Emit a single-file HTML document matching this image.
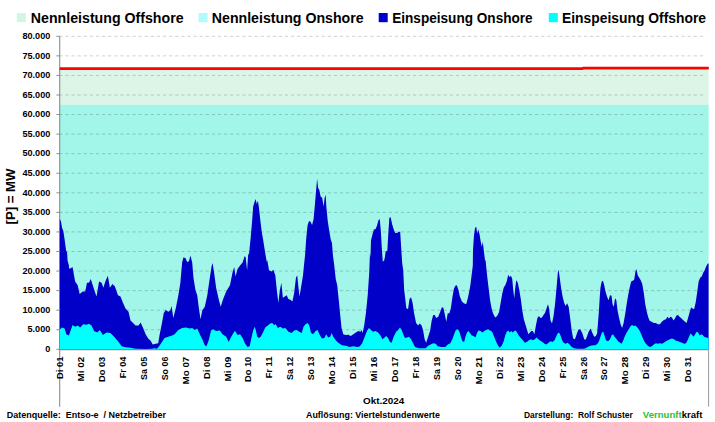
<!DOCTYPE html>
<html><head><meta charset="utf-8"><title>Windenergie Okt.2024</title>
<style>
html,body{margin:0;padding:0;background:#fff;}
body{width:715px;height:422px;overflow:hidden;font-family:"Liberation Sans",sans-serif;}
svg{display:block;}
text{font-family:"Liberation Sans",sans-serif;font-weight:bold;fill:#000;}
</style></head><body>
<svg width="715" height="422" viewBox="0 0 715 422">
<rect x="0" y="0" width="715" height="422" fill="#ffffff"/>

<rect x="59.7" y="69.5" width="648.9" height="35.2" fill="#dcf5e6"/>
<rect x="59.7" y="104.7" width="648.9" height="244.6" fill="#a1f5e9"/>
<line x1="59.3" y1="36.30" x2="706.2" y2="36.30" stroke="#000000" stroke-width="0.9" stroke-dasharray="3.2,2.9" stroke-opacity="0.21"/>
<line x1="59.3" y1="55.86" x2="706.2" y2="55.86" stroke="#000000" stroke-width="0.9" stroke-dasharray="3.2,2.9" stroke-opacity="0.21"/>
<line x1="59.3" y1="75.42" x2="706.2" y2="75.42" stroke="#000000" stroke-width="0.9" stroke-dasharray="3.2,2.9" stroke-opacity="0.21"/>
<line x1="59.3" y1="94.99" x2="706.2" y2="94.99" stroke="#000000" stroke-width="0.9" stroke-dasharray="3.2,2.9" stroke-opacity="0.21"/>
<line x1="59.3" y1="114.55" x2="706.2" y2="114.55" stroke="#000000" stroke-width="0.9" stroke-dasharray="3.2,2.9" stroke-opacity="0.21"/>
<line x1="59.3" y1="134.11" x2="706.2" y2="134.11" stroke="#000000" stroke-width="0.9" stroke-dasharray="3.2,2.9" stroke-opacity="0.21"/>
<line x1="59.3" y1="153.68" x2="706.2" y2="153.68" stroke="#000000" stroke-width="0.9" stroke-dasharray="3.2,2.9" stroke-opacity="0.21"/>
<line x1="59.3" y1="173.24" x2="706.2" y2="173.24" stroke="#000000" stroke-width="0.9" stroke-dasharray="3.2,2.9" stroke-opacity="0.21"/>
<line x1="59.3" y1="192.80" x2="706.2" y2="192.80" stroke="#000000" stroke-width="0.9" stroke-dasharray="3.2,2.9" stroke-opacity="0.21"/>
<line x1="59.3" y1="212.36" x2="706.2" y2="212.36" stroke="#000000" stroke-width="0.9" stroke-dasharray="3.2,2.9" stroke-opacity="0.21"/>
<line x1="59.3" y1="231.93" x2="706.2" y2="231.93" stroke="#000000" stroke-width="0.9" stroke-dasharray="3.2,2.9" stroke-opacity="0.21"/>
<line x1="59.3" y1="251.49" x2="706.2" y2="251.49" stroke="#000000" stroke-width="0.9" stroke-dasharray="3.2,2.9" stroke-opacity="0.21"/>
<line x1="59.3" y1="271.05" x2="706.2" y2="271.05" stroke="#000000" stroke-width="0.9" stroke-dasharray="3.2,2.9" stroke-opacity="0.21"/>
<line x1="59.3" y1="290.61" x2="706.2" y2="290.61" stroke="#000000" stroke-width="0.9" stroke-dasharray="3.2,2.9" stroke-opacity="0.21"/>
<line x1="59.3" y1="310.18" x2="706.2" y2="310.18" stroke="#000000" stroke-width="0.9" stroke-dasharray="3.2,2.9" stroke-opacity="0.21"/>
<line x1="59.3" y1="329.74" x2="706.2" y2="329.74" stroke="#000000" stroke-width="0.9" stroke-dasharray="3.2,2.9" stroke-opacity="0.21"/>
<line x1="59.7" y1="36.3" x2="59.7" y2="406.7" stroke="#8c8c8c" stroke-width="1.1"/>
<path d="M59.78,349.30 L59.78,218.87 L61.04,221.64 L62.05,227.94 L63.31,230.96 L64.57,239.27 L66.08,250.59 L67.08,252.52 L67.59,260.66 L68.85,265.10 L69.10,268.72 L70.61,267.71 L70.61,268.88 L72.12,266.96 L72.62,267.62 L75.14,281.47 L77.66,285.24 L79.67,294.06 L82.69,291.54 L85.21,291.54 L86.97,282.73 L88.99,282.73 L90.75,278.95 L92.76,285.24 L94.78,291.54 L96.54,296.57 L99.06,281.47 L101.57,282.73 L103.34,287.76 L105.35,281.47 L107.87,275.68 L109.88,287.76 L112.40,283.99 L114.92,286.50 L117.94,295.31 L120.45,296.57 L122.97,302.87 L125.49,308.41 L128.51,311.68 L130.52,320.49 L133.04,323.01 L135.56,325.52 L138.58,325.52 L140.59,322.50 L143.11,328.04 L145.63,334.34 L148.15,338.62 L150.66,340.63 L152.68,344.41 L155.70,343.65 L158.22,343.15 L159.48,335.59 L161.99,323.01 L163.76,312.94 L165.77,309.92 L168.29,311.68 L170.30,310.42 L171.56,305.89 L173.32,317.97 L175.84,307.90 L178.36,295.31 L180.37,282.73 L182.13,262.59 L183.39,257.55 L185.41,258.06 L187.17,262.08 L188.93,261.33 L190.44,255.54 L192.20,262.59 L193.46,277.69 L195.48,290.28 L197.24,295.31 L199.00,309.16 L200.51,319.23 L202.27,310.42 L204.79,306.64 L207.31,295.31 L209.83,277.69 L211.59,266.36 L212.59,263.09 L214.10,272.66 L216.12,287.76 L218.64,299.09 L220.65,306.64 L223.17,299.09 L226.19,291.54 L229.97,285.24 L232.48,272.66 L234.24,267.12 L235.54,276.43 L237.55,268.88 L240.07,265.61 L242.59,262.59 L244.60,256.29 L245.61,257.05 L247.12,270.14 L248.13,255.03 L249.13,253.11 L250.64,238.01 L252.15,220.38 L253.16,206.54 L254.67,201.50 L255.68,198.99 L256.69,204.02 L257.94,200.75 L258.95,207.80 L260.21,219.13 L261.72,231.71 L263.23,240.52 L265.24,253.11 L266.76,261.92 L267.26,260.07 L269.02,270.14 L271.54,271.40 L273.30,269.64 L275.31,275.17 L276.83,290.28 L278.34,302.87 L279.85,290.28 L281.36,282.73 L282.87,297.83 L284.88,296.57 L286.64,295.31 L288.41,299.09 L290.42,299.85 L292.43,301.61 L294.20,292.80 L295.96,277.69 L297.22,275.17 L298.48,287.76 L299.48,296.57 L300.99,287.76 L303.01,275.17 L304.52,260.07 L305.02,255.63 L306.28,238.01 L307.54,225.42 L309.05,220.89 L310.56,221.64 L312.07,224.92 L313.58,219.13 L314.84,205.28 L316.10,190.17 L317.10,178.85 L318.11,187.66 L319.37,190.17 L320.63,196.47 L322.14,197.73 L323.65,206.54 L324.66,197.73 L325.66,194.71 L326.42,207.80 L327.68,220.38 L329.19,230.45 L330.70,239.27 L331.96,243.04 L332.97,255.63 L334.22,265.10 L335.73,278.95 L337.24,285.24 L338.76,300.35 L340.27,315.45 L341.52,328.04 L343.29,334.34 L345.80,335.09 L348.32,334.84 L350.84,336.10 L353.36,334.34 L355.87,332.57 L358.39,331.06 L360.41,331.82 L361.66,330.06 L362.67,333.08 L364.18,325.52 L365.94,312.94 L367.71,295.31 L369.22,272.66 L369.97,253.11 L370.48,257.55 L370.98,240.52 L372.49,234.23 L374.00,229.20 L375.51,229.20 L377.02,225.42 L378.53,219.88 L379.79,219.13 L380.80,230.45 L381.80,248.08 L382.81,261.92 L383.06,261.33 L384.07,260.66 L384.83,257.55 L385.58,251.85 L387.34,250.59 L388.35,232.97 L389.36,217.87 L390.62,217.36 L392.13,224.16 L393.64,229.20 L395.15,232.97 L397.16,232.97 L398.67,231.71 L400.18,231.71 L401.19,248.08 L402.20,263.18 L403.20,270.14 L404.21,290.28 L405.72,302.87 L406.26,307.90 L408.02,309.16 L409.53,299.09 L411.04,297.33 L412.55,302.87 L414.06,312.94 L416.08,323.01 L418.09,325.52 L419.60,323.51 L421.62,325.52 L423.13,330.56 L424.64,339.37 L426.15,342.64 L428.16,336.85 L430.17,330.56 L431.69,320.49 L433.20,314.95 L434.71,314.95 L436.22,317.97 L438.23,316.71 L440.24,311.68 L441.76,307.40 L443.27,307.40 L444.78,314.20 L446.29,321.75 L447.80,312.94 L449.31,313.44 L450.82,308.41 L452.33,297.83 L453.84,289.02 L455.35,285.75 L456.86,285.24 L458.37,289.78 L459.88,296.57 L461.90,301.61 L463.91,303.37 L466.17,304.13 L467.94,297.83 L469.20,291.54 L470.30,285.75 L472.80,265.61 L472.97,250.59 L473.98,235.49 L474.99,227.94 L476.24,226.68 L477.25,233.48 L478.26,229.20 L479.52,234.23 L480.52,240.52 L481.78,246.82 L482.79,241.78 L483.80,250.59 L485.06,260.66 L485.56,260.07 L487.07,275.17 L488.58,287.76 L490.09,300.35 L491.60,308.41 L493.11,313.44 L495.13,317.47 L497.14,315.96 L499.15,311.68 L500.66,302.87 L502.17,294.06 L503.69,287.76 L505.20,285.24 L506.71,281.47 L508.22,274.67 L509.73,277.19 L510.99,275.68 L512.24,278.95 L513.25,290.28 L514.26,298.34 L515.27,287.76 L516.27,280.21 L517.78,282.73 L519.29,290.28 L520.80,299.09 L522.31,310.42 L523.83,319.23 L525.34,324.27 L526.85,329.30 L528.36,334.34 L529.87,332.57 L531.38,331.06 L532.89,331.06 L534.40,334.34 L535.91,325.52 L537.42,317.97 L538.93,315.96 L540.44,317.97 L541.95,317.47 L543.46,314.95 L544.97,312.94 L546.48,308.41 L547.99,304.13 L549.00,307.90 L550.51,320.49 L552.02,323.51 L553.53,315.96 L555.04,304.13 L556.55,287.76 L557.81,272.66 L558.57,269.64 L559.57,276.43 L561.08,287.76 L562.59,296.57 L564.10,302.87 L565.62,305.89 L567.13,303.37 L568.64,306.64 L570.15,317.97 L571.66,330.56 L573.17,338.62 L574.93,339.37 L576.69,334.34 L578.20,330.06 L580.22,329.30 L582.23,333.08 L584.24,339.37 L585.60,339.87 L586.86,336.85 L588.62,331.82 L590.64,328.55 L592.40,333.08 L594.16,336.85 L595.92,336.10 L597.18,333.08 L598.19,320.49 L598.94,310.42 L599.70,297.83 L600.45,287.76 L601.71,281.47 L602.97,280.71 L604.23,285.24 L605.49,291.54 L607.00,296.57 L608.51,300.35 L610.02,295.31 L611.53,295.82 L612.54,304.13 L613.80,306.64 L615.06,298.34 L616.31,300.35 L617.57,310.42 L619.08,317.97 L620.59,324.27 L622.10,328.04 L623.62,323.01 L625.13,314.20 L626.64,304.13 L628.15,295.31 L629.66,287.76 L631.17,281.47 L632.68,280.71 L634.19,279.71 L635.45,271.40 L636.45,268.88 L637.71,275.17 L639.22,277.69 L640.73,280.21 L642.24,283.99 L643.76,292.80 L645.27,304.13 L646.78,311.68 L648.29,317.47 L649.80,320.99 L651.81,321.75 L653.83,323.01 L655.84,323.01 L657.85,324.27 L659.87,324.27 L661.88,321.75 L663.90,319.99 L665.91,319.23 L667.42,316.71 L668.93,318.48 L670.44,316.71 L671.95,317.47 L673.46,320.49 L674.97,318.48 L676.48,315.45 L677.99,314.95 L679.50,316.71 L681.01,317.97 L683.03,319.99 L685.04,321.75 L686.55,323.01 L688.06,317.97 L689.57,312.43 L691.08,307.40 L692.59,308.41 L694.10,309.16 L695.62,302.87 L697.13,292.80 L698.64,281.47 L700.15,277.69 L701.66,276.43 L703.17,272.66 L704.68,270.14 L706.19,266.36 L707.70,263.85 L708.61,263.34 L708.61,349.30 Z" fill="#0000c8"/>
<path d="M59.78,349.30 L59.78,329.55 L62.05,327.54 L64.57,328.55 L66.33,334.34 L68.85,335.59 L70.61,330.56 L72.62,325.02 L75.14,326.78 L77.66,325.52 L80.17,327.54 L83.20,324.27 L86.47,324.77 L88.99,323.76 L91.50,325.52 L94.02,331.06 L97.29,332.57 L99.81,330.06 L102.83,335.09 L106.61,332.57 L110.38,333.08 L114.16,336.85 L117.94,341.13 L121.71,346.17 L125.49,347.17 L130.52,347.68 L135.56,348.69 L145.63,348.94 L151.92,348.69 L154.44,348.18 L156.96,348.69 L159.48,345.66 L161.99,341.89 L164.51,338.11 L168.29,336.85 L172.06,335.59 L174.58,334.34 L178.36,330.06 L182.13,328.04 L185.91,327.54 L189.69,328.55 L192.20,328.04 L194.72,330.06 L197.24,328.55 L199.76,334.34 L202.27,339.37 L204.79,345.16 L206.55,346.17 L208.57,340.63 L211.08,330.56 L213.10,329.30 L216.12,331.06 L219.90,330.56 L222.41,334.34 L226.19,336.85 L228.71,341.89 L231.22,336.85 L234.24,331.82 L235.03,331.06 L237.55,335.09 L240.07,334.34 L242.59,338.11 L245.10,343.65 L247.62,346.92 L249.64,346.17 L251.40,338.11 L253.16,330.56 L254.67,326.78 L255.93,330.56 L257.19,336.85 L258.95,338.11 L260.71,336.85 L262.73,333.08 L265.24,327.54 L267.76,325.52 L270.28,323.51 L272.29,323.01 L274.06,325.02 L275.82,324.27 L277.83,328.04 L280.35,326.78 L282.87,328.55 L285.38,328.04 L288.41,331.82 L291.68,333.08 L294.20,330.56 L296.71,330.06 L299.23,331.82 L301.75,333.08 L303.51,326.78 L305.52,324.27 L307.54,323.01 L309.30,325.52 L311.06,333.08 L313.08,334.34 L315.59,331.06 L317.61,330.06 L319.37,334.34 L321.89,338.62 L324.41,338.11 L326.17,334.34 L328.18,337.61 L330.20,336.85 L331.71,333.08 L333.22,336.85 L335.73,340.13 L338.25,342.64 L342.03,345.16 L345.80,345.66 L349.58,346.92 L353.36,346.17 L357.13,346.92 L359.65,346.42 L362.17,343.15 L364.69,336.85 L367.20,330.56 L368.97,328.04 L370.98,330.06 L372.99,331.82 L375.51,331.06 L378.03,332.57 L380.55,335.59 L382.31,339.37 L384.07,338.11 L386.08,336.10 L388.10,338.11 L389.86,341.89 L391.62,342.64 L393.64,336.85 L396.15,331.82 L398.17,330.06 L399.93,327.54 L401.69,330.06 L403.71,335.59 L405.00,338.11 L407.01,337.61 L409.03,336.85 L411.04,339.37 L413.06,343.15 L415.07,346.92 L418.85,348.18 L422.62,348.18 L425.64,348.18 L428.16,345.66 L430.68,344.41 L433.20,343.15 L435.71,343.65 L437.73,346.17 L441.50,346.92 L445.28,346.92 L447.80,344.41 L450.31,343.15 L452.33,339.37 L454.09,334.34 L455.85,330.06 L457.87,329.30 L459.38,331.82 L460.89,336.85 L462.40,341.13 L464.16,341.89 L465.42,336.85 L466.93,332.57 L468.44,331.06 L469.95,333.08 L471.71,335.59 L473.48,336.10 L475.49,337.61 L477.00,333.08 L478.51,330.56 L480.52,331.06 L482.54,332.57 L484.30,331.06 L486.06,330.06 L488.08,329.30 L490.09,330.56 L492.10,331.82 L493.62,335.59 L495.13,339.37 L496.64,342.64 L498.15,345.66 L499.66,347.68 L501.67,345.66 L503.69,341.13 L505.20,335.59 L506.71,331.82 L508.22,330.56 L509.73,332.57 L511.24,331.06 L512.75,332.57 L514.26,331.06 L515.77,330.56 L517.28,333.08 L518.79,335.59 L520.80,338.11 L522.82,340.13 L524.83,342.64 L526.85,341.89 L528.86,340.13 L530.87,339.37 L532.89,340.13 L534.90,339.37 L536.41,337.61 L538.43,339.37 L540.44,340.63 L542.45,341.89 L544.47,343.65 L546.48,344.41 L548.50,342.64 L550.51,341.13 L552.52,341.89 L554.54,340.13 L556.05,336.85 L557.56,333.58 L559.07,332.57 L560.58,335.59 L562.09,340.13 L563.60,342.64 L565.62,343.65 L567.63,342.64 L569.64,344.41 L571.66,346.92 L574.17,348.18 L577.45,348.69 L581.22,348.69 L584.24,348.69 L587.87,346.92 L590.38,345.66 L593.41,345.16 L595.42,345.16 L597.43,343.65 L598.94,341.13 L600.45,336.85 L601.97,332.57 L603.22,331.82 L604.48,335.59 L605.99,340.13 L608.01,341.13 L610.02,339.37 L611.53,335.59 L613.04,334.34 L614.55,336.85 L616.06,338.62 L618.08,341.13 L620.09,342.64 L621.60,343.65 L623.11,340.63 L624.62,336.85 L626.13,333.58 L627.64,331.06 L629.15,328.55 L630.66,326.03 L632.17,325.02 L633.69,326.03 L635.20,325.52 L636.71,326.78 L638.22,328.55 L639.73,331.06 L641.24,334.34 L642.75,338.11 L644.26,341.13 L645.77,343.65 L647.78,345.66 L649.80,346.92 L651.81,346.17 L653.83,344.41 L655.84,343.15 L657.85,343.65 L659.87,343.15 L661.88,343.65 L663.90,342.64 L665.91,341.13 L667.92,340.13 L669.94,339.37 L671.95,338.62 L673.97,339.37 L675.98,340.63 L677.99,341.13 L680.01,341.89 L682.02,342.64 L684.03,343.65 L686.05,343.15 L687.56,340.13 L689.07,336.85 L690.58,333.58 L692.09,335.09 L693.60,336.85 L695.11,334.34 L696.62,331.82 L698.13,332.57 L699.64,335.59 L701.15,334.34 L702.66,335.09 L704.17,336.85 L706.19,337.61 L708.61,338.11 L708.61,349.30 Z" fill="#00ffff"/>
<line x1="56.4" y1="36.30" x2="59.7" y2="36.30" stroke="#8c8c8c" stroke-width="1"/>
<line x1="56.4" y1="55.86" x2="59.7" y2="55.86" stroke="#8c8c8c" stroke-width="1"/>
<line x1="56.4" y1="75.42" x2="59.7" y2="75.42" stroke="#8c8c8c" stroke-width="1"/>
<line x1="56.4" y1="94.99" x2="59.7" y2="94.99" stroke="#8c8c8c" stroke-width="1"/>
<line x1="56.4" y1="114.55" x2="59.7" y2="114.55" stroke="#8c8c8c" stroke-width="1"/>
<line x1="56.4" y1="134.11" x2="59.7" y2="134.11" stroke="#8c8c8c" stroke-width="1"/>
<line x1="56.4" y1="153.68" x2="59.7" y2="153.68" stroke="#8c8c8c" stroke-width="1"/>
<line x1="56.4" y1="173.24" x2="59.7" y2="173.24" stroke="#8c8c8c" stroke-width="1"/>
<line x1="56.4" y1="192.80" x2="59.7" y2="192.80" stroke="#8c8c8c" stroke-width="1"/>
<line x1="56.4" y1="212.36" x2="59.7" y2="212.36" stroke="#8c8c8c" stroke-width="1"/>
<line x1="56.4" y1="231.93" x2="59.7" y2="231.93" stroke="#8c8c8c" stroke-width="1"/>
<line x1="56.4" y1="251.49" x2="59.7" y2="251.49" stroke="#8c8c8c" stroke-width="1"/>
<line x1="56.4" y1="271.05" x2="59.7" y2="271.05" stroke="#8c8c8c" stroke-width="1"/>
<line x1="56.4" y1="290.61" x2="59.7" y2="290.61" stroke="#8c8c8c" stroke-width="1"/>
<line x1="56.4" y1="310.18" x2="59.7" y2="310.18" stroke="#8c8c8c" stroke-width="1"/>
<line x1="56.4" y1="329.74" x2="59.7" y2="329.74" stroke="#8c8c8c" stroke-width="1"/>
<line x1="56.4" y1="349.30" x2="59.7" y2="349.30" stroke="#8c8c8c" stroke-width="1"/>
<path d="M59.7,68.7 L582.2,68.7 L583.2,68.15 L708.8,68.15" fill="none" stroke="#ff0000" stroke-width="2.8"/>
<line x1="59.7" y1="349.6" x2="708.6" y2="349.6" stroke="#8c8c8c" stroke-width="1.1"/>
<line x1="708.6" y1="349.3" x2="708.6" y2="406.7" stroke="#9a9a9a" stroke-width="1"/>
<text x="50.3" y="39.05" font-size="9.1" text-anchor="end">80.000</text>
<text x="50.3" y="58.61" font-size="9.1" text-anchor="end">75.000</text>
<text x="50.3" y="78.17" font-size="9.1" text-anchor="end">70.000</text>
<text x="50.3" y="97.74" font-size="9.1" text-anchor="end">65.000</text>
<text x="50.3" y="117.30" font-size="9.1" text-anchor="end">60.000</text>
<text x="50.3" y="136.86" font-size="9.1" text-anchor="end">55.000</text>
<text x="50.3" y="156.43" font-size="9.1" text-anchor="end">50.000</text>
<text x="50.3" y="175.99" font-size="9.1" text-anchor="end">45.000</text>
<text x="50.3" y="195.55" font-size="9.1" text-anchor="end">40.000</text>
<text x="50.3" y="215.11" font-size="9.1" text-anchor="end">35.000</text>
<text x="50.3" y="234.68" font-size="9.1" text-anchor="end">30.000</text>
<text x="50.3" y="254.24" font-size="9.1" text-anchor="end">25.000</text>
<text x="50.3" y="273.80" font-size="9.1" text-anchor="end">20.000</text>
<text x="50.3" y="293.36" font-size="9.1" text-anchor="end">15.000</text>
<text x="50.3" y="312.93" font-size="9.1" text-anchor="end">10.000</text>
<text x="50.3" y="332.49" font-size="9.1" text-anchor="end">5.000</text>
<text x="50.3" y="352.05" font-size="9.1" text-anchor="end">0</text>
<text transform="translate(15.3,196.5) rotate(-90)" font-size="13.2" text-anchor="middle">[P] = MW</text>
<text transform="translate(63.00,356.7) rotate(-90)" font-size="9.6" text-anchor="end" textLength="22.2" lengthAdjust="spacingAndGlyphs">Di 01</text>
<text transform="translate(83.94,356.7) rotate(-90)" font-size="9.6" text-anchor="end" textLength="24.8" lengthAdjust="spacingAndGlyphs">Mi 02</text>
<text transform="translate(104.88,356.7) rotate(-90)" font-size="9.6" text-anchor="end" textLength="25.3" lengthAdjust="spacingAndGlyphs">Do 03</text>
<text transform="translate(125.82,356.7) rotate(-90)" font-size="9.6" text-anchor="end" textLength="21.6" lengthAdjust="spacingAndGlyphs">Fr 04</text>
<text transform="translate(146.76,356.7) rotate(-90)" font-size="9.6" text-anchor="end" textLength="23.2" lengthAdjust="spacingAndGlyphs">Sa 05</text>
<text transform="translate(167.70,356.7) rotate(-90)" font-size="9.6" text-anchor="end" textLength="23.6" lengthAdjust="spacingAndGlyphs">So 06</text>
<text transform="translate(188.64,356.7) rotate(-90)" font-size="9.6" text-anchor="end" textLength="27.8" lengthAdjust="spacingAndGlyphs">Mo 07</text>
<text transform="translate(209.58,356.7) rotate(-90)" font-size="9.6" text-anchor="end" textLength="22.2" lengthAdjust="spacingAndGlyphs">Di 08</text>
<text transform="translate(230.52,356.7) rotate(-90)" font-size="9.6" text-anchor="end" textLength="24.8" lengthAdjust="spacingAndGlyphs">Mi 09</text>
<text transform="translate(251.46,356.7) rotate(-90)" font-size="9.6" text-anchor="end" textLength="25.3" lengthAdjust="spacingAndGlyphs">Do 10</text>
<text transform="translate(272.40,356.7) rotate(-90)" font-size="9.6" text-anchor="end" textLength="21.6" lengthAdjust="spacingAndGlyphs">Fr 11</text>
<text transform="translate(293.34,356.7) rotate(-90)" font-size="9.6" text-anchor="end" textLength="23.2" lengthAdjust="spacingAndGlyphs">Sa 12</text>
<text transform="translate(314.28,356.7) rotate(-90)" font-size="9.6" text-anchor="end" textLength="23.6" lengthAdjust="spacingAndGlyphs">So 13</text>
<text transform="translate(335.22,356.7) rotate(-90)" font-size="9.6" text-anchor="end" textLength="27.8" lengthAdjust="spacingAndGlyphs">Mo 14</text>
<text transform="translate(356.16,356.7) rotate(-90)" font-size="9.6" text-anchor="end" textLength="22.2" lengthAdjust="spacingAndGlyphs">Di 15</text>
<text transform="translate(377.10,356.7) rotate(-90)" font-size="9.6" text-anchor="end" textLength="24.8" lengthAdjust="spacingAndGlyphs">Mi 16</text>
<text transform="translate(398.04,356.7) rotate(-90)" font-size="9.6" text-anchor="end" textLength="25.3" lengthAdjust="spacingAndGlyphs">Do 17</text>
<text transform="translate(418.98,356.7) rotate(-90)" font-size="9.6" text-anchor="end" textLength="21.6" lengthAdjust="spacingAndGlyphs">Fr 18</text>
<text transform="translate(439.92,356.7) rotate(-90)" font-size="9.6" text-anchor="end" textLength="23.2" lengthAdjust="spacingAndGlyphs">Sa 19</text>
<text transform="translate(460.86,356.7) rotate(-90)" font-size="9.6" text-anchor="end" textLength="23.6" lengthAdjust="spacingAndGlyphs">So 20</text>
<text transform="translate(481.80,356.7) rotate(-90)" font-size="9.6" text-anchor="end" textLength="27.8" lengthAdjust="spacingAndGlyphs">Mo 21</text>
<text transform="translate(502.74,356.7) rotate(-90)" font-size="9.6" text-anchor="end" textLength="22.2" lengthAdjust="spacingAndGlyphs">Di 22</text>
<text transform="translate(523.68,356.7) rotate(-90)" font-size="9.6" text-anchor="end" textLength="24.8" lengthAdjust="spacingAndGlyphs">Mi 23</text>
<text transform="translate(544.62,356.7) rotate(-90)" font-size="9.6" text-anchor="end" textLength="25.3" lengthAdjust="spacingAndGlyphs">Do 24</text>
<text transform="translate(565.56,356.7) rotate(-90)" font-size="9.6" text-anchor="end" textLength="21.6" lengthAdjust="spacingAndGlyphs">Fr 25</text>
<text transform="translate(586.50,356.7) rotate(-90)" font-size="9.6" text-anchor="end" textLength="23.2" lengthAdjust="spacingAndGlyphs">Sa 26</text>
<text transform="translate(607.44,356.7) rotate(-90)" font-size="9.6" text-anchor="end" textLength="23.6" lengthAdjust="spacingAndGlyphs">So 27</text>
<text transform="translate(628.38,356.7) rotate(-90)" font-size="9.6" text-anchor="end" textLength="27.8" lengthAdjust="spacingAndGlyphs">Mo 28</text>
<text transform="translate(649.32,356.7) rotate(-90)" font-size="9.6" text-anchor="end" textLength="22.2" lengthAdjust="spacingAndGlyphs">Di 29</text>
<text transform="translate(670.26,356.7) rotate(-90)" font-size="9.6" text-anchor="end" textLength="24.8" lengthAdjust="spacingAndGlyphs">Mi 30</text>
<text transform="translate(691.20,356.7) rotate(-90)" font-size="9.6" text-anchor="end" textLength="25.3" lengthAdjust="spacingAndGlyphs">Do 31</text>
<rect x="16.8" y="13.0" width="9" height="9.2" fill="#d1f6e3"/>
<text x="30.8" y="22.6" font-size="14.8" textLength="152.8" lengthAdjust="spacingAndGlyphs">Nennleistung Offshore</text>
<rect x="198.6" y="13.0" width="9" height="9.2" fill="#b1fbfc"/>
<text x="211.8" y="22.6" font-size="14.8" textLength="151.8" lengthAdjust="spacingAndGlyphs">Nennleistung Onshore</text>
<rect x="378.7" y="13.0" width="9" height="9.2" fill="#0000cc"/>
<text x="392.2" y="22.6" font-size="14.8" textLength="140.5" lengthAdjust="spacingAndGlyphs">Einspeisung Onshore</text>
<rect x="548.8" y="13.0" width="9" height="9.2" fill="#00ffff"/>
<text x="562.0" y="22.6" font-size="14.8" textLength="144.0" lengthAdjust="spacingAndGlyphs">Einspeisung Offshore</text>
<text x="363" y="403.6" font-size="9.7" textLength="41.3" lengthAdjust="spacingAndGlyphs">Okt.2024</text>
<text x="6.8" y="418.2" font-size="9.1" textLength="159.2" lengthAdjust="spacingAndGlyphs" xml:space="preserve">Datenquelle:  Entso-e  / Netzbetreiber</text>
<text x="306" y="418.2" font-size="9.1" textLength="134" lengthAdjust="spacingAndGlyphs">Auflösung: Viertelstundenwerte</text>
<text x="524" y="418.2" font-size="9.1" textLength="108.7" lengthAdjust="spacingAndGlyphs" xml:space="preserve">Darstellung:  Rolf Schuster</text>
<text x="642.8" y="418.2" font-size="9.1" textLength="59.7" lengthAdjust="spacingAndGlyphs"><tspan fill="#2fbf2f">Vernunft</tspan><tspan fill="#000">kraft</tspan></text>
</svg>
</body></html>
